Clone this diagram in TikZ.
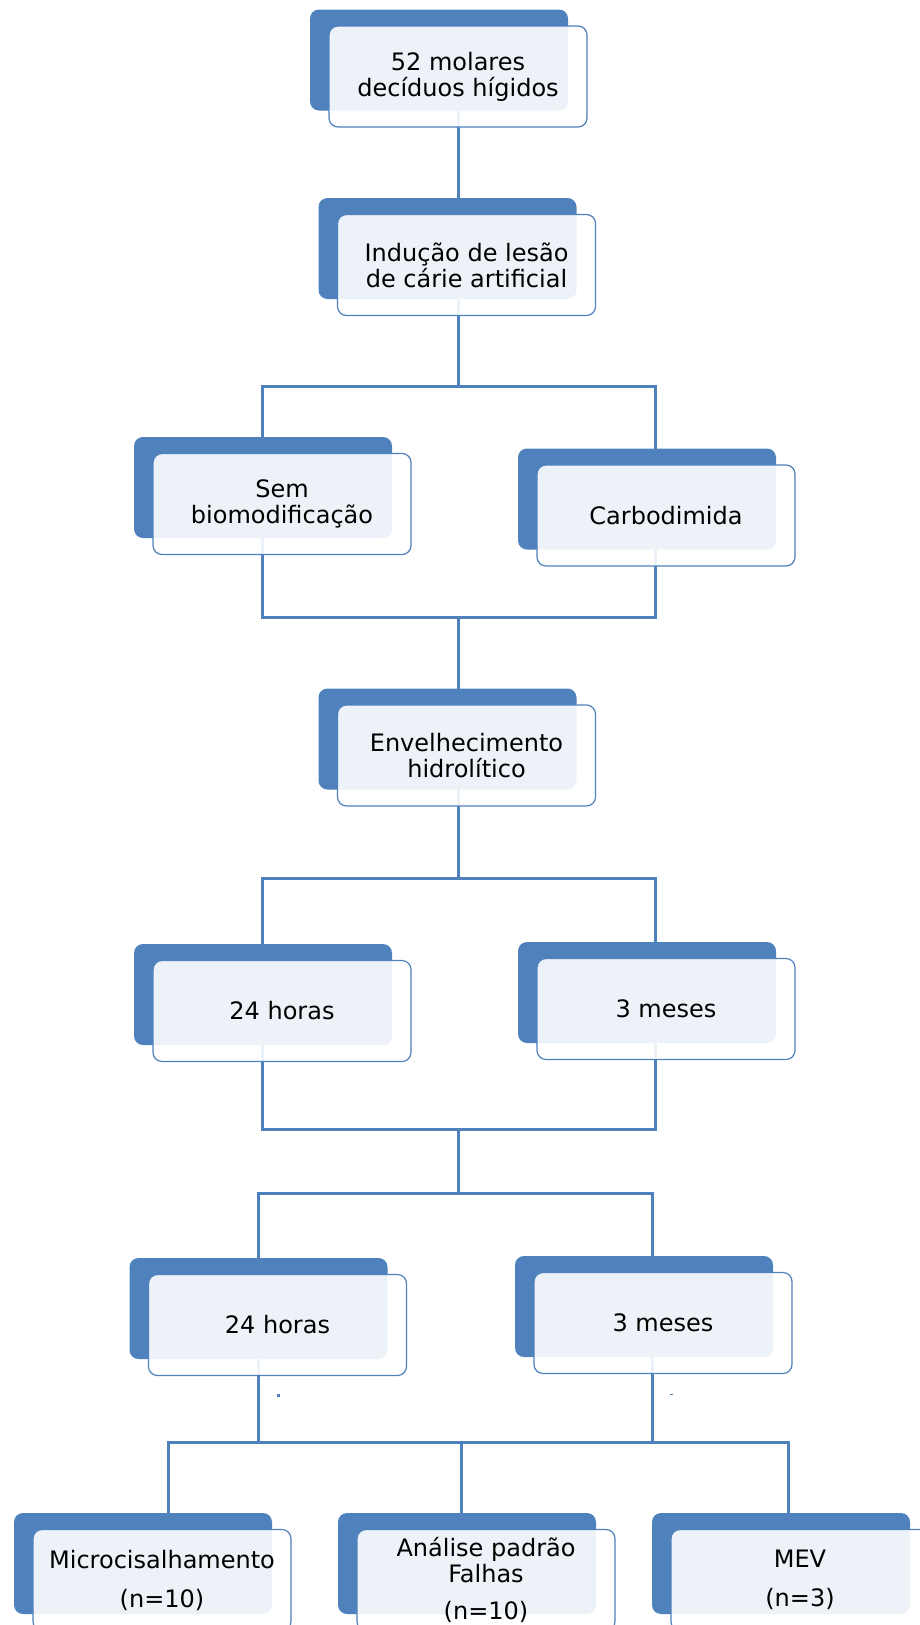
\documentclass[tikz,border=0pt]{standalone}
\usepackage{fontspec}
\setmainfont{DejaVu Sans}
\usetikzlibrary{positioning,shadows,backgrounds}

\definecolor{azul}{HTML}{4F81BD}

\begin{document}
\begin{tikzpicture}[x=1pt, y=-1pt,
    caixa/.style={draw=azul, line width=1.2pt, rounded corners=9pt,
        fill=white, fill opacity=0.9, text opacity=1,
        minimum width=258pt, minimum height=101pt, align=center,
        font=\fontsize{24}{26}\selectfont,
        general shadow={fill=azul, draw=none, fill opacity=1,
            shadow xshift=-19pt, shadow yshift=16.5pt}},
    ligacao/.style={draw=azul, line width=3pt}]
    \useasboundingbox (0,0) rectangle (919,1625);

    % Nodes {c1, c2, ..., c12}
    \node [caixa] (c1)  at (458,76.5)   {52 molares\\decíduos hígidos};
    \node [caixa] (c2)  at (466.5,265)  {Indução de lesão\\de cárie artificial};
    \node [caixa] (c3)  at (282,504)    {Sem\\biomodificação};
    \node [caixa] (c4)  at (666,515.5)  {Carbodimida};
    \node [caixa] (c5)  at (466.5,755.5) {Envelhecimento\\hidrolítico};
    \node [caixa] (c6)  at (282,1011)   {24 horas};
    \node [caixa] (c7)  at (666,1009)   {3 meses};
    \node [caixa] (c8)  at (277.5,1325) {24 horas};
    \node [caixa] (c9)  at (663,1323)   {3 meses};
    \node [caixa] (c10) at (162,1580)   {Microcisalhamento\\[13pt](n=10)};
    \node [caixa] (c11) at (486,1580)   {Análise padrão\\Falhas\\[11pt](n=10)};
    \node [caixa] (c12) at (800,1580)   {MEV\\[13pt](n=3)};

    % Junctions
    \coordinate (j1) at (458,386);  \coordinate (j1e) at (262,386);  \coordinate (j1d) at (655,386);
    \coordinate (j2) at (458,617);  \coordinate (j2e) at (262,617);  \coordinate (j2d) at (655,617);
    \coordinate (j3) at (458,878);  \coordinate (j3e) at (262,878);  \coordinate (j3d) at (655,878);
    \coordinate (j4) at (458,1129); \coordinate (j4e) at (262,1129); \coordinate (j4d) at (655,1129);
    \coordinate (j5) at (458,1193); \coordinate (j5e) at (258,1193); \coordinate (j5d) at (652,1193);
    \coordinate (j6) at (461,1442); \coordinate (j6e) at (168,1442); \coordinate (j6d) at (788,1442);
    \coordinate (j6a) at (258,1442); \coordinate (j6b) at (652,1442);

    % Paths
    \begin{pgfonlayer}{background}
    \draw [ligacao] (c1 -| j1) -- (c2 -| j1);
    \draw [ligacao] (c2 -| j1) -- (j1);
    \draw [ligacao] (c3 -| j1e) -- (j1e) -- (j1d) -- (c4 -| j1d);
    \draw [ligacao] (c3 -| j2e) -- (j2e) -- (j2d) -- (c4 -| j2d);
    \draw [ligacao] (j2) -- (c5 -| j2);
    \draw [ligacao] (c5 -| j3) -- (j3);
    \draw [ligacao] (c6 -| j3e) -- (j3e) -- (j3d) -- (c7 -| j3d);
    \draw [ligacao] (c6 -| j4e) -- (j4e) -- (j4d) -- (c7 -| j4d);
    \draw [ligacao] (j4) -- (j5);
    \draw [ligacao] (c8 -| j5e) -- (j5e) -- (j5d) -- (c9 -| j5d);
    \draw [ligacao] (c8 -| j6a) -- (j6a);
    \draw [ligacao] (c9 -| j6b) -- (j6b);
    \draw [ligacao] (c10 -| j6e) -- (j6e) -- (j6d) -- (c12 -| j6d);
    \draw [ligacao] (j6) -- (c11 -| j6);
    \end{pgfonlayer}

    % small marks under the second row of times
    \fill [azul] (276.5,1393.5) rectangle (279.5,1396.5);
    \fill [azul] (669.5,1393.5) rectangle (672.5,1394.5);
\end{tikzpicture}
\end{document}
